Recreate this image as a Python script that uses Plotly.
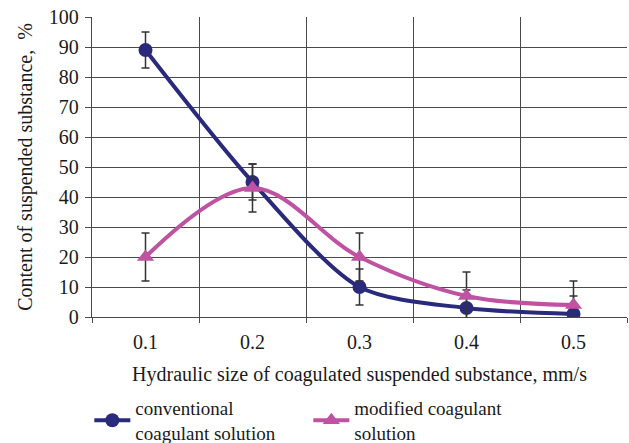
import plotly.graph_objects as go

x_vals = [0.1, 0.2, 0.3, 0.4, 0.5]
x_labels = ["0.1", "0.2", "0.3", "0.4", "0.5"]
conventional = [89, 45, 10, 3, 1]
conventional_err = [6, 6, 6, 6, 6]
modified = [20, 43, 20, 7, 4]
modified_err = [8, 8, 8, 8, 8]

FONT = "Liberation Serif, DejaVu Serif, serif"
navy = "#2a2a7c"
magenta = "#c052a2"
grid = "#4a4a4a"

fig = go.Figure()
fig.add_trace(go.Scatter(
    x=x_vals, y=conventional, mode="lines+markers",
    name="conventional<br>coagulant solution",
    line=dict(color=navy, width=4, shape="spline", smoothing=0.8),
    marker=dict(symbol="circle", size=14, color=navy),
    error_y=dict(type="data", array=conventional_err, color="#333333", thickness=1.5, width=4),
))
fig.add_trace(go.Scatter(
    x=x_vals, y=modified, mode="lines+markers",
    name="modified coagulant<br>solution",
    line=dict(color=magenta, width=4, shape="spline", smoothing=1.0),
    marker=dict(symbol="triangle-up", size=15, color=magenta),
    error_y=dict(type="data", array=modified_err, color="#333333", thickness=1.5, width=4),
))

fig.update_layout(
    width=629, height=443,
    margin=dict(l=92, r=2, t=17, b=126, autoexpand=False),
    paper_bgcolor="white", plot_bgcolor="white",
    font=dict(family=FONT, size=20, color="#1a1a1a"),
    showlegend=True,
    legend=dict(orientation="h", x=-0.005, xanchor="left", y=-0.24, yanchor="top",
                entrywidth=168, entrywidthmode="pixels", font=dict(size=19, family=FONT),
                tracegroupgap=0, itemwidth=36),
    xaxis=dict(
        range=[0.05, 0.55], tickvals=x_vals, ticktext=x_labels, showgrid=False,
        zeroline=False, showline=True, linecolor=grid, linewidth=1.3,
        ticks="", tickfont=dict(size=20, family=FONT), ticklabelstandoff=7,
        minor=dict(tick0=0.05, dtick=0.1, showgrid=True, gridcolor=grid, gridwidth=1.3,
                   ticks="outside", ticklen=5, tickcolor=grid),
        title=dict(text="Hydraulic size of coagulated suspended substance, mm/s",
                   font=dict(size=20, family=FONT), standoff=14),
    ),
    yaxis=dict(
        range=[0, 100], dtick=10, showgrid=True, gridcolor=grid, gridwidth=1.3,
        zeroline=False, showline=True, linecolor=grid, linewidth=1.3,
        ticks="outside", ticklen=6, tickcolor=grid, tickfont=dict(size=20, family=FONT),
        ticklabelstandoff=2,
        title=dict(text="Content of suspended substance,  %", font=dict(size=20, family=FONT),
                   standoff=10),
    ),
)

fig.write_html("out.html", config={"displayModeBar": False},
               post_script="document.body.style.margin='0';document.body.style.overflow='hidden';")
